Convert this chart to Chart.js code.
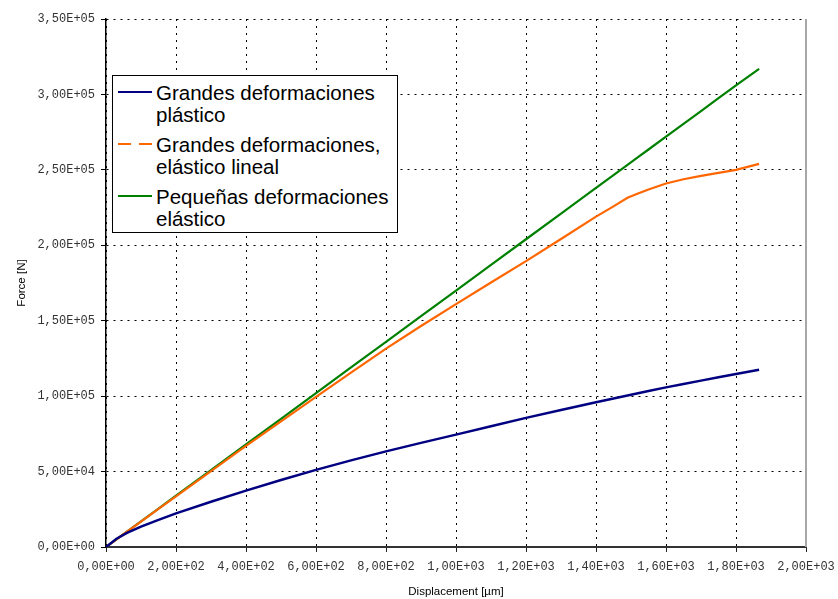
<!DOCTYPE html>
<html>
<head>
<meta charset="utf-8">
<script src="https://cdn.jsdelivr.net/npm/chart.js@4.4.1/dist/chart.umd.min.js"></script>
<style>
  html, body { margin: 0; padding: 0; background: #fff; }
  #wrap { position: relative; width: 838px; height: 599px; }
  #legend {
    position: absolute; left: 112px; top: 75px; width: 284px; height: 156px;
    border: 1px solid #000; background: #fff; box-sizing: content-box;
    font-family: "Liberation Sans", Arial, sans-serif; font-size: 20.5px; color: #000;
  }
  .item { position: absolute; left: 0; }
  .item .swatch { position: absolute; left: 5px; width: 34px; height: 0; }
  .item .text { position: absolute; left: 43px; line-height: 21.7px; white-space: nowrap; }
</style>
</head>
<body>
<div id="wrap">
  <canvas id="c" width="838" height="599"></canvas>
  <div id="legend"></div>
</div>
<script>
// Displacement [µm] sampled along the load path
const displacement = [0, 30, 60, 100, 150, 200, 300, 400, 500, 600, 700, 800, 900, 1000,
  1100, 1200, 1300, 1400, 1450, 1490, 1520, 1550, 1600, 1650, 1700, 1750, 1800, 1866];

// Force [N] for each model
const forcePlastic = [0, 5500, 9300, 13500, 18000, 22300, 30000, 37400, 44400, 51100, 57400,
  63400, 69000, 74500, 80100, 85600, 90800, 95900, 98400, 100400, 101900, 103400, 105800,
  108000, 110300, 112500, 114700, 117500];
const forceLinearLarge = [0, 5050, 10100, 16800, 25200, 33600, 50300, 67000, 83300, 99500,
  115600, 131500, 146500, 161000, 175300, 189500, 204200, 219000, 225800, 231500, 234300,
  237000, 241000, 243800, 246000, 248000, 250000, 254000];
const forceSmall = [0, 5100, 10200, 17000, 25500, 34000, 51000, 68000, 85000, 102000, 119000,
  136000, 153000, 170000, 187000, 204000, 221000, 238000, 246500, 253300, 258400, 263500,
  272000, 280500, 289000, 297500, 306000, 317000];

const seriesNames = [
  ["Grandes deformaciones", "plástico"],
  ["Grandes deformaciones,", "elástico lineal"],
  ["Pequeñas deformaciones", "elástico"]
];

// Axis tick labels
const xTickLabels = ["0,00E+00", "2,00E+02", "4,00E+02", "6,00E+02", "8,00E+02", "1,00E+03",
  "1,20E+03", "1,40E+03", "1,60E+03", "1,80E+03", "2,00E+03"];
const yTickLabels = ["0,00E+00", "5,00E+04", "1,00E+05", "1,50E+05", "2,00E+05", "2,50E+05",
  "3,00E+05", "3,50E+05"];

const toPoints = ys => displacement.map((x, i) => ({ x, y: ys[i] }));

const colors = ["#000080", "#FF6600", "#008000"];
const legendDash = [[], [13, 8], []];

const datasets = [forcePlastic, forceLinearLarge, forceSmall].map((ys, i) => ({
  label: seriesNames[i].join(" "),
  data: toPoints(ys),
  borderColor: colors[i],
  backgroundColor: colors[i],
  borderWidth: i === 0 ? 2.5 : 2.2,
  pointRadius: 0,
  showLine: true,
  tension: 0,
  fill: false
}));

// Solid grey frame on the right side of the plot area
const rightFrame = {
  id: "rightFrame",
  afterDatasetsDraw(chart) {
    const { ctx, chartArea } = chart;
    ctx.save();
    ctx.strokeStyle = "#a8a8a8";
    ctx.lineWidth = 2;
    ctx.setLineDash([]);
    ctx.beginPath();
    ctx.moveTo(chartArea.right, chartArea.top);
    ctx.lineTo(chartArea.right, chartArea.bottom);
    ctx.stroke();
    ctx.restore();
  }
};

const tickFont = { family: "'Liberation Mono', 'Courier New', monospace", size: 12 };
const titleFont = { family: "'Liberation Sans', Arial, sans-serif", size: 11.5 };

const chart = new Chart(document.getElementById("c"), {
  type: "scatter",
  data: { datasets },
  plugins: [rightFrame],
  options: {
    responsive: false,
    animation: false,
    layout: { padding: { left: 0, right: 32, top: 19, bottom: 0 } },
    plugins: { legend: { display: false }, tooltip: { enabled: false } },
    scales: {
      x: {
        type: "linear", min: 0, max: 2000,
        ticks: {
          stepSize: 200, color: "#333", font: tickFont, padding: 8, maxRotation: 0,
          callback: (v, i) => xTickLabels[i]
        },
        grid: {
          color: "#000", lineWidth: 1, tickLength: 5, tickColor: "#222",
          tickBorderDash: [], drawOnChartArea: true
        },
        border: { display: true, color: "#333", width: 2, dash: [2, 5] },
        title: { display: true, text: "Displacement [µm]", color: "#000", font: titleFont,
          padding: { top: 0, bottom: 0 } },
        afterFit: s => { s.height = 52; s.paddingLeft = 0; s.paddingRight = 0; }
      },
      y: {
        type: "linear", min: 0, max: 350000,
        ticks: {
          stepSize: 50000, color: "#333", font: tickFont, padding: 6,
          callback: (v, i) => yTickLabels[i]
        },
        grid: {
          color: "#000", lineWidth: 1, tickLength: 5, tickColor: "#000",
          tickBorderDash: []
        },
        border: { display: true, color: "#000", width: 1.5, dash: [2, 5] },
        title: { display: true, text: "Force [N]", color: "#000", font: titleFont,
          padding: { top: 15, bottom: 0 } },
        afterFit: s => { s.width = 106; s.paddingTop = 0; s.paddingBottom = 0; }
      }
    }
  }
});

// Legend entries built from the chart datasets
(function buildLegend() {
  const legendEl = document.getElementById("legend");
  const rowH = 21.7, gap = 8.5;
  let itemTop = 6;
  chart.data.datasets.forEach((ds, i) => {
    const item = document.createElement("div");
    item.className = "item";
    item.style.top = itemTop + "px";
    const sw = document.createElement("div");
    sw.className = "swatch";
    sw.style.top = (rowH / 2 - 2) + "px";
    const dash = legendDash[i];
    if (dash.length) {
      sw.style.height = "2.5px";
      sw.style.background = `repeating-linear-gradient(90deg, ${ds.borderColor} 0 ${dash[0]}px, transparent ${dash[0]}px ${dash[0] + dash[1]}px)`;
    } else {
      sw.style.height = "2px";
      sw.style.background = ds.borderColor;
    }
    const tx = document.createElement("div");
    tx.className = "text";
    tx.innerHTML = seriesNames[i].join("<br>");
    item.appendChild(sw);
    item.appendChild(tx);
    legendEl.appendChild(item);
    itemTop += seriesNames[i].length * rowH + gap;
  });
})();
</script>
</body>
</html>
